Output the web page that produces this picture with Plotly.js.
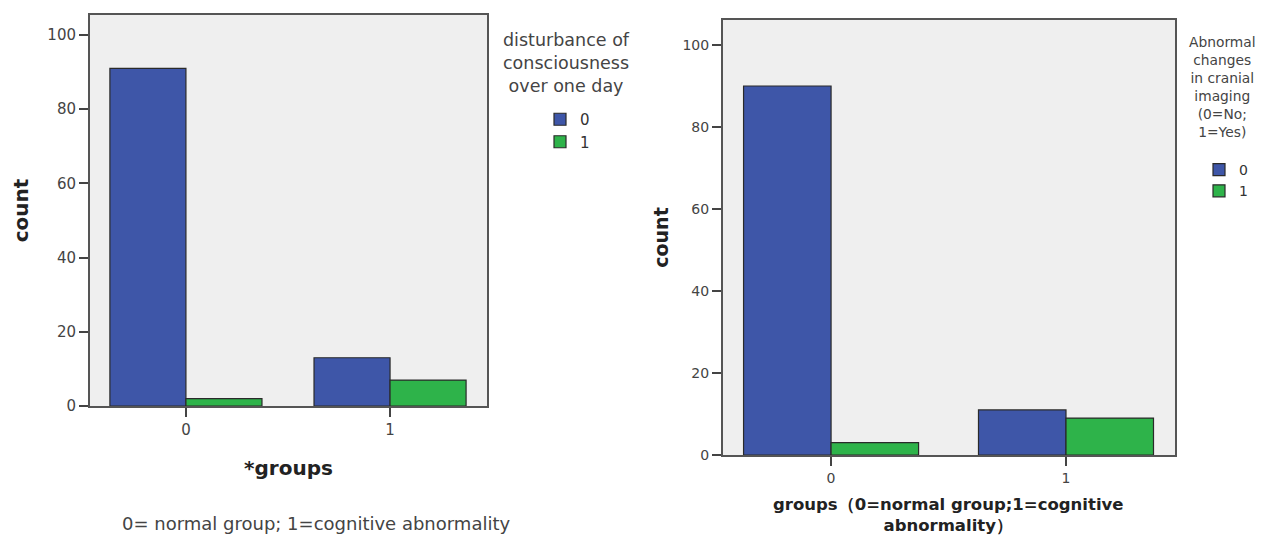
<!DOCTYPE html>
<html>
<head>
<meta charset="utf-8">
<script src="https://cdn.plot.ly/plotly-3.0.1.min.js"></script>
<style>html,body{margin:0;padding:0;background:#fff;overflow:hidden;}#chart{width:1270px;height:537px;}</style>
</head>
<body>
<div id="chart"></div>
<script>
// ---- data ----
const groups = ['0', '1'];
const leftCount0 = [91, 13];   // disturbance of consciousness = 0
const leftCount1 = [2, 7];     // disturbance of consciousness = 1
const rightCount0 = [90, 11];  // abnormal cranial imaging = 0
const rightCount1 = [3, 9];    // abnormal cranial imaging = 1
const seriesNames = ['0', '1'];
const yTicks = [0, 20, 40, 60, 80, 100];

const BLUE = '#3E56A8';
const GREEN = '#2EB34A';
const EDGE = '#2a2a2a';
const FONT = 'DejaVu Sans, Verdana, sans-serif';
const W = 1270, H = 537;
const px = v => v / W;
const py = v => 1 - v / H;

function bar(y, i, xa, ya, legend, showlegend) {
  return {
    type: 'bar', x: groups, y: y, name: seriesNames[i],
    xaxis: xa, yaxis: ya, legend: legend, showlegend: showlegend,
    marker: {color: i === 0 ? BLUE : GREEN, line: {color: EDGE, width: 1.2}},
    hoverinfo: 'x+y+name'
  };
}

const data = [
  bar(leftCount0, 0, 'x', 'y', 'legend', true),
  bar(leftCount1, 1, 'x', 'y', 'legend', true),
  bar(rightCount0, 0, 'x2', 'y2', 'legend2', true),
  bar(rightCount1, 1, 'x2', 'y2', 'legend2', true)
];

const axisCommon = {
  showline: true, mirror: true, linecolor: '#555', linewidth: 2,
  showgrid: false, zeroline: false, ticks: 'outside', ticklen: 9,
  tickcolor: '#444', tickwidth: 1.5, fixedrange: true,
  tickfont: {family: FONT, size: 15, color: '#444'}
};

const layout = {
  width: W, height: H,
  margin: {l: 0, r: 0, t: 0, b: 0},
  paper_bgcolor: '#ffffff', plot_bgcolor: '#EFEFEF',
  font: {family: FONT, color: '#444'},
  barmode: 'group', bargap: 0.255, bargroupgap: 0,
  xaxis: Object.assign({}, axisCommon, {
    domain: [px(90), px(487)], anchor: 'y', type: 'category', range: [-0.47, 1.475],
    title: {text: '<b>*groups</b>', font: {family: FONT, size: 20, color: '#222'}, standoff: 23}
  }),
  yaxis: Object.assign({}, axisCommon, {
    domain: [py(406), py(15)], anchor: 'x', range: [0, 105.4], tickvals: yTicks,
    title: {text: '<b>count</b>', font: {family: FONT, size: 20, color: '#222'}, standoff: 13}
  }),
  xaxis2: Object.assign({}, axisCommon, {
    domain: [px(723), px(1175)], anchor: 'y2', type: 'category', range: [-0.46, 1.464],
    tickfont: {family: FONT, size: 14, color: '#444'}
  }),
  yaxis2: Object.assign({}, axisCommon, {
    domain: [py(455), py(20)], anchor: 'x2', range: [0, 106.1], tickvals: yTicks,
    tickfont: {family: FONT, size: 14, color: '#444'},
    title: {text: '<b>count</b>', font: {family: FONT, size: 19, color: '#222'}, standoff: 9}
  }),
  legend: {
    x: px(540), y: py(103), xanchor: 'left', yanchor: 'top',
    bgcolor: 'rgba(0,0,0,0)', font: {family: FONT, size: 15, color: '#333'},
    itemwidth: 30, tracegroupgap: 0, traceorder: 'normal'
  },
  legend2: {
    x: px(1199), y: py(154), xanchor: 'left', yanchor: 'top',
    bgcolor: 'rgba(0,0,0,0)', font: {family: FONT, size: 14, color: '#333'},
    itemwidth: 30, tracegroupgap: 0, traceorder: 'normal'
  },
  annotations: [
    {xref: 'paper', yref: 'paper', x: px(566), y: py(28), xanchor: 'center', yanchor: 'top',
     text: 'disturbance of<br>consciousness<br>over one day', showarrow: false, align: 'center',
     font: {family: FONT, size: 17.5, color: '#444'}},
    {xref: 'paper', yref: 'paper', x: px(1222), y: py(32), xanchor: 'center', yanchor: 'top',
     text: 'Abnormal<br>changes<br>in cranial<br>imaging<br>(0=No;<br>1=Yes)', showarrow: false, align: 'center',
     font: {family: FONT, size: 13.8, color: '#444'}},
    {xref: 'paper', yref: 'paper', x: px(316), y: py(523), xanchor: 'center', yanchor: 'middle',
     text: '0= normal group; 1=cognitive abnormality', showarrow: false,
     font: {family: FONT, size: 18, color: '#444'}},
    {xref: 'paper', yref: 'paper', x: px(948), y: py(493), xanchor: 'center', yanchor: 'top',
     text: '<b>groups（0=normal group;1=cognitive<br>abnormality）</b>', showarrow: false, align: 'center',
     font: {family: FONT, size: 16.5, color: '#222'}}
  ]
};

Plotly.newPlot('chart', data, layout, {displayModeBar: false});
</script>
</body>
</html>
